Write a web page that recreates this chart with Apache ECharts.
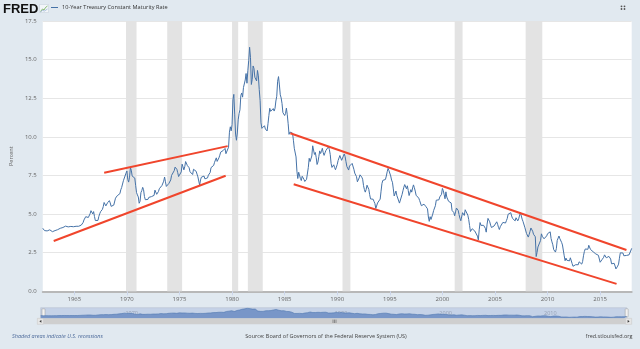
<!DOCTYPE html>
<html><head><meta charset="utf-8">
<script src="https://cdn.jsdelivr.net/npm/echarts@6/dist/echarts.min.js"></script>
<style>html,body{margin:0;padding:0;background:#e1e9f0;}#c{width:640px;height:349px;}</style>
</head><body><div id="c"></div>
<script>
// Monthly 10-Year Treasury Constant Maturity Rate (percent), starting January 1962
const startYear = 1962;
const rates1962to1969 = [
4.08,4.04,3.93,3.84,3.87,3.91,4.01,3.98,3.98,3.93,3.92,3.86,
3.83,3.92,3.93,3.97,3.93,3.99,4.02,4.00,4.08,4.11,4.12,4.13,
4.17,4.15,4.22,4.23,4.20,4.17,4.19,4.19,4.20,4.19,4.15,4.18,
4.19,4.21,4.21,4.20,4.21,4.21,4.20,4.25,4.29,4.35,4.45,4.62,
4.61,4.83,4.87,4.75,4.78,4.81,5.02,5.22,5.18,5.01,5.16,4.84,
4.58,4.63,4.54,4.59,4.85,5.02,5.16,5.28,5.30,5.48,5.75,5.70,
5.53,5.56,5.74,5.64,5.87,5.72,5.50,5.42,5.46,5.58,5.70,6.03,
6.04,6.19,6.30,6.17,6.32,6.57,6.72,6.69,7.16,7.10,7.14,7.65];
const rates1970s = [
7.79,7.24,7.07,7.39,8.00,7.84,7.46,7.53,7.39,7.33,6.84,6.39,
6.24,6.11,5.70,5.83,6.39,6.52,6.73,6.58,6.14,5.93,5.81,5.93,
5.95,6.08,6.07,6.19,6.13,6.11,6.11,6.21,6.55,6.48,6.28,6.36,
6.46,6.64,6.71,6.67,6.85,6.90,7.13,7.40,7.09,6.79,6.73,6.74,
6.99,6.96,7.21,7.51,7.58,7.54,7.81,8.04,8.04,7.90,7.68,7.43,
7.50,7.39,7.73,8.23,8.06,7.86,8.06,8.40,8.43,8.14,8.05,8.00,
7.74,7.79,7.73,7.56,7.90,7.86,7.83,7.77,7.59,7.41,7.29,6.87,
7.21,7.39,7.46,7.37,7.46,7.28,7.33,7.40,7.34,7.52,7.58,7.69,
8.01,8.03,8.04,8.15,8.35,8.46,8.64,8.41,8.42,8.64,8.81,9.01,
9.10,9.10,9.12,9.18,9.25,8.91,8.95,9.03,9.33,10.30,10.65,10.39];
const rates1980s = [
10.80,12.41,12.75,11.47,10.18,9.78,10.25,11.10,11.51,11.75,12.68,12.84,
12.57,13.19,13.12,13.68,14.10,13.47,14.28,14.94,15.80,15.15,13.39,13.72,
14.59,14.43,13.86,13.87,13.62,14.30,13.95,13.06,12.34,10.91,10.55,10.54,
10.46,10.72,10.51,10.40,10.38,10.85,11.38,11.85,11.65,11.54,11.69,11.83,
11.67,11.84,12.32,12.63,13.60,13.90,13.36,12.72,12.52,12.16,11.57,11.50,
11.38,11.51,11.86,11.43,10.85,10.16,10.31,10.33,10.37,10.24,9.78,9.26,
9.19,8.70,7.78,7.30,7.71,7.80,7.30,7.17,7.45,7.43,7.25,7.11,
7.08,7.25,7.25,8.02,8.61,8.40,8.45,8.76,9.42,9.52,8.86,8.99,
8.67,8.21,8.37,8.72,9.09,8.92,9.06,9.26,8.98,8.80,8.96,9.11,
9.09,9.17,9.36,9.18,8.86,8.28,8.02,8.11,8.19,8.01,7.87,7.84];
const rates1990s = [
8.21,8.47,8.59,8.79,8.76,8.48,8.47,8.75,8.89,8.72,8.39,8.08,
8.09,7.85,8.11,8.04,8.07,8.28,8.27,7.90,7.65,7.53,7.42,7.09,
7.03,7.34,7.54,7.48,7.39,7.26,6.84,6.59,6.42,6.59,6.87,6.77,
6.60,6.26,5.98,5.97,6.04,5.96,5.81,5.68,5.36,5.33,5.72,5.77,
5.75,5.97,6.48,6.97,7.18,7.10,7.30,7.24,7.46,7.74,7.96,7.81,
7.78,7.47,7.20,7.06,6.63,6.17,6.28,6.49,6.20,6.04,5.93,5.71,
5.65,5.81,6.27,6.51,6.74,6.91,6.87,6.64,6.83,6.53,6.20,6.30,
6.58,6.42,6.69,6.89,6.71,6.49,6.22,6.30,6.21,6.03,5.88,5.81,
5.54,5.57,5.65,5.64,5.65,5.50,5.46,5.34,4.81,4.53,4.83,4.65,
4.72,5.00,5.23,5.18,5.54,5.90,5.79,5.94,5.92,6.11,6.03,6.28];
const rates2000s = [
6.66,6.52,6.26,5.99,6.44,6.10,6.05,5.83,5.80,5.74,5.72,5.24,
5.16,5.10,4.89,5.14,5.39,5.28,5.24,4.97,4.73,4.57,4.65,5.09,
5.04,4.91,5.28,5.21,5.16,4.93,4.65,4.26,3.87,3.94,4.05,4.03,
4.05,3.90,3.81,3.96,3.57,3.33,3.98,4.45,4.27,4.29,4.30,4.27,
4.15,4.08,3.83,4.35,4.72,4.73,4.50,4.28,4.13,4.10,4.19,4.23,
4.22,4.17,4.50,4.34,4.14,4.00,4.18,4.26,4.20,4.46,4.54,4.47,
4.42,4.57,4.72,4.99,5.11,5.11,5.09,4.88,4.72,4.73,4.60,4.56,
4.76,4.72,4.56,4.69,4.75,5.10,5.00,4.67,4.52,4.53,4.15,4.10,
3.74,3.74,3.51,3.68,3.88,4.10,4.01,3.89,3.69,3.81,3.53,2.25,
2.52,2.87,2.82,2.93,3.29,3.72,3.56,3.59,3.40,3.39,3.40,3.59];
const rates2010s = [
3.73,3.69,3.73,3.85,3.42,3.20,3.01,2.70,2.65,2.54,2.76,3.29,
3.39,3.58,3.41,3.46,3.17,3.00,3.00,2.30,1.98,2.15,2.01,1.98,
1.97,1.97,2.17,2.05,1.80,1.62,1.50,1.68,1.72,1.75,1.65,1.72,
1.91,1.98,1.96,1.76,1.93,2.30,2.58,2.74,2.81,2.62,2.72,2.98,
2.86,2.71,2.72,2.71,2.56,2.60,2.54,2.42,2.53,2.30,2.33,2.21,
1.88,1.98,2.04,1.94,2.20,2.36,2.32,2.17,2.17,2.07,2.26,2.24,
2.09,1.78,1.89,1.81,1.81,1.64,1.45,1.56,1.63,1.76,2.14,2.49,
2.43,2.42,2.48,2.30,2.30,2.19,2.32,2.21,2.20,2.36,2.35,2.40,
2.78];
// Recessions (peak month, trough month)
const recessions = [['1969-12','1970-11'],['1973-11','1975-03'],['1980-01','1980-07'],
  ['1981-07','1982-11'],['1990-07','1991-03'],['2001-03','2001-11'],['2007-12','2009-06']];
// Hand-drawn trend lines, [year, percent] endpoints
const trendLowerLeft = [[1963.04,3.26],[1979.39,7.48]];
const trendUpperLeft = [[1967.84,7.68],[1979.58,9.40]];
const trendUpperRight = [[1985.54,10.23],[2017.5,2.67]];
const trendLowerRight = [[1985.86,6.93],[2016.56,0.48]];
const xLabelYears = [1965,1970,1975,1980,1985,1990,1995,2000,2005,2010,2015];
const navLabelYears = [1970,1980,1990,2000,2010];

const rates = [].concat(rates1962to1969, rates1970s, rates1980s, rates1990s, rates2000s, rates2010s);
const seriesData = rates.map((v, i) => [startYear + i / 12, v]);
const ym = s => { const [y, m] = s.split('-').map(Number); return y + (m - 1) / 12; };
const recessionAreas = recessions.map(([s, e]) => [{ xAxis: ym(s) }, { xAxis: ym(e) + 1 / 12 }]);
const xMax = seriesData[seriesData.length - 1][0];

const FONT = '"Open Sans", "Liberation Sans", sans-serif';
const chart = echarts.init(document.getElementById('c'), null, { renderer: 'canvas' });
const trend = (d) => ({ type: 'line', data: d, symbol: 'none', silent: true, z: 5,
  lineStyle: { color: '#f0452c', width: 2 } });

chart.setOption({
  animation: false,
  backgroundColor: '#e1e9f0',
  textStyle: { fontFamily: FONT },
  grid: [
    { left: 37.3, right: 8.3, top: 21, bottom: 57.7, show: true, backgroundColor: '#ffffff', borderWidth: 0 },
    { left: 40.7, right: 13.3, top: 307.7, height: 10.6, show: true, backgroundColor: '#c5d2e7', borderColor: '#b3bccb', borderWidth: 0.5 }
  ],
  xAxis: [
    { type: 'value', gridIndex: 0, min: startYear, max: xMax,
      axisLine: { show: true, lineStyle: { color: '#b8b8b8', width: 2 } },
      axisTick: { show: true, customValues: xLabelYears, length: 4, lineStyle: { color: '#ccd6eb', width: 1 } },
      axisLabel: { customValues: xLabelYears, fontSize: 6, color: '#666666', margin: 5, fontFamily: FONT,
        formatter: v => String(Math.round(v)) },
      splitLine: { show: false } },
    { type: 'value', gridIndex: 1, min: startYear, max: xMax,
      axisLine: { show: false }, axisTick: { show: false }, splitLine: { show: false },
      axisLabel: { inside: true, customValues: navLabelYears, fontSize: 5.5, color: 'rgba(90,100,120,0.45)',
        align: 'left', margin: 1.5, padding: [0, 0, 0, 1], fontFamily: FONT, formatter: v => String(Math.round(v)) } }
  ],
  yAxis: [
    { type: 'value', gridIndex: 0, min: 0, max: 17.5, interval: 2.5,
      axisLine: { show: false }, axisTick: { show: false },
      axisLabel: { fontSize: 6, color: '#666666', margin: 6, fontFamily: FONT, formatter: v => v.toFixed(1) },
      splitLine: { lineStyle: { color: '#e6e6e6', width: 1 } },
      name: 'Percent', nameLocation: 'middle', nameGap: 28, nameRotate: 90,
      nameTextStyle: { fontSize: 5.5, color: '#666666', fontFamily: FONT } },
    { type: 'value', gridIndex: 1, min: 0, max: 16, show: false }
  ],
  series: [
    { type: 'line', data: [], silent: true, z: 1,
      markArea: { silent: true, itemStyle: { color: '#e3e3e3' }, data: recessionAreas } },
    { type: 'line', data: seriesData, showSymbol: false, symbol: 'none', z: 3,
      lineStyle: { color: '#4572a7', width: 1 } },
    trend(trendLowerLeft), trend(trendUpperLeft), trend(trendUpperRight), trend(trendLowerRight),
    { type: 'line', xAxisIndex: 1, yAxisIndex: 1, data: seriesData, symbol: 'none', silent: true,
      lineStyle: { color: '#4f77b0', width: 0.6 }, areaStyle: { color: '#7896c8', opacity: 1 } }
  ],
  graphic: [
    { type: 'text', x: 3, y: 3, style: { text: 'FRED', font: 'bold 13px "Liberation Sans", Arial, sans-serif', fill: '#111111' } },
    { type: 'rect', shape: { x: 39.5, y: 4.5, width: 9, height: 8 }, style: { fill: '#f3f6f9', stroke: '#c5cfdb', lineWidth: 0.5 } },
    { type: 'polyline', shape: { points: [[40.5, 11.5], [42.5, 9], [44, 10], [45.5, 7.5], [47.5, 6]] }, style: { stroke: '#6aa84f', lineWidth: 0.8, fill: null } },
    { type: 'polyline', shape: { points: [[40.5, 12], [42.5, 10.5], [44.5, 11], [47.5, 9]] }, style: { stroke: '#7f9ccb', lineWidth: 0.6, fill: null } },
    { type: 'line', shape: { x1: 51, y1: 7.5, x2: 58, y2: 7.5 }, style: { stroke: '#4572a7', lineWidth: 1 } },
    { type: 'text', x: 62, y: 7.6, style: { text: '10-Year Treasury Constant Maturity Rate', font: '5.6px ' + FONT, fill: '#333333', verticalAlign: 'middle' } },
    { type: 'circle', shape: { cx: 621.5, cy: 6.3, r: 0.9 }, style: { fill: '#555' } },
    { type: 'circle', shape: { cx: 624.5, cy: 6.3, r: 0.9 }, style: { fill: '#555' } },
    { type: 'circle', shape: { cx: 621.5, cy: 9.0, r: 0.9 }, style: { fill: '#555' } },
    { type: 'circle', shape: { cx: 624.5, cy: 9.0, r: 0.9 }, style: { fill: '#555' } },
    // navigator handles
    { type: 'rect', shape: { x: 42, y: 308.8, width: 3, height: 8, r: 0.5 }, style: { fill: '#f2f2f2', stroke: '#999999', lineWidth: 0.5 } },
    { type: 'rect', shape: { x: 625.2, y: 308.8, width: 3, height: 8, r: 0.5 }, style: { fill: '#f2f2f2', stroke: '#999999', lineWidth: 0.5 } },
    // scrollbar
    { type: 'rect', shape: { x: 37.3, y: 318.3, width: 594.4, height: 6 }, style: { fill: '#cfcfcf' } },
    { type: 'rect', shape: { x: 37.3, y: 318.3, width: 6, height: 6 }, style: { fill: '#e6e6e6', stroke: '#cccccc', lineWidth: 0.5 } },
    { type: 'rect', shape: { x: 625.7, y: 318.3, width: 6, height: 6 }, style: { fill: '#e6e6e6', stroke: '#cccccc', lineWidth: 0.5 } },
    { type: 'polygon', shape: { points: [[41.4, 319.9], [41.4, 322.7], [39.4, 321.3]] }, style: { fill: '#333' } },
    { type: 'polygon', shape: { points: [[627.6, 319.9], [627.6, 322.7], [629.6, 321.3]] }, style: { fill: '#333' } },
    { type: 'line', shape: { x1: 333, y1: 319.6, x2: 333, y2: 323 }, style: { stroke: '#444', lineWidth: 0.5 } },
    { type: 'line', shape: { x1: 334.5, y1: 319.6, x2: 334.5, y2: 323 }, style: { stroke: '#444', lineWidth: 0.5 } },
    { type: 'line', shape: { x1: 336, y1: 319.6, x2: 336, y2: 323 }, style: { stroke: '#444', lineWidth: 0.5 } },
    // footer
    { type: 'text', x: 12, y: 336, style: { text: 'Shaded areas indicate U.S. recessions', font: 'italic 5.5px ' + FONT, fill: '#4a6899', verticalAlign: 'middle' } },
    { type: 'text', x: 326, y: 336, style: { text: 'Source: Board of Governors of the Federal Reserve System (US)', font: '5.5px ' + FONT, fill: '#444444', align: 'center', verticalAlign: 'middle' } },
    { type: 'text', x: 632.5, y: 336, style: { text: 'fred.stlouisfed.org', font: '5.5px ' + FONT, fill: '#444444', align: 'right', verticalAlign: 'middle' } }
  ]
});
</script></body></html>
